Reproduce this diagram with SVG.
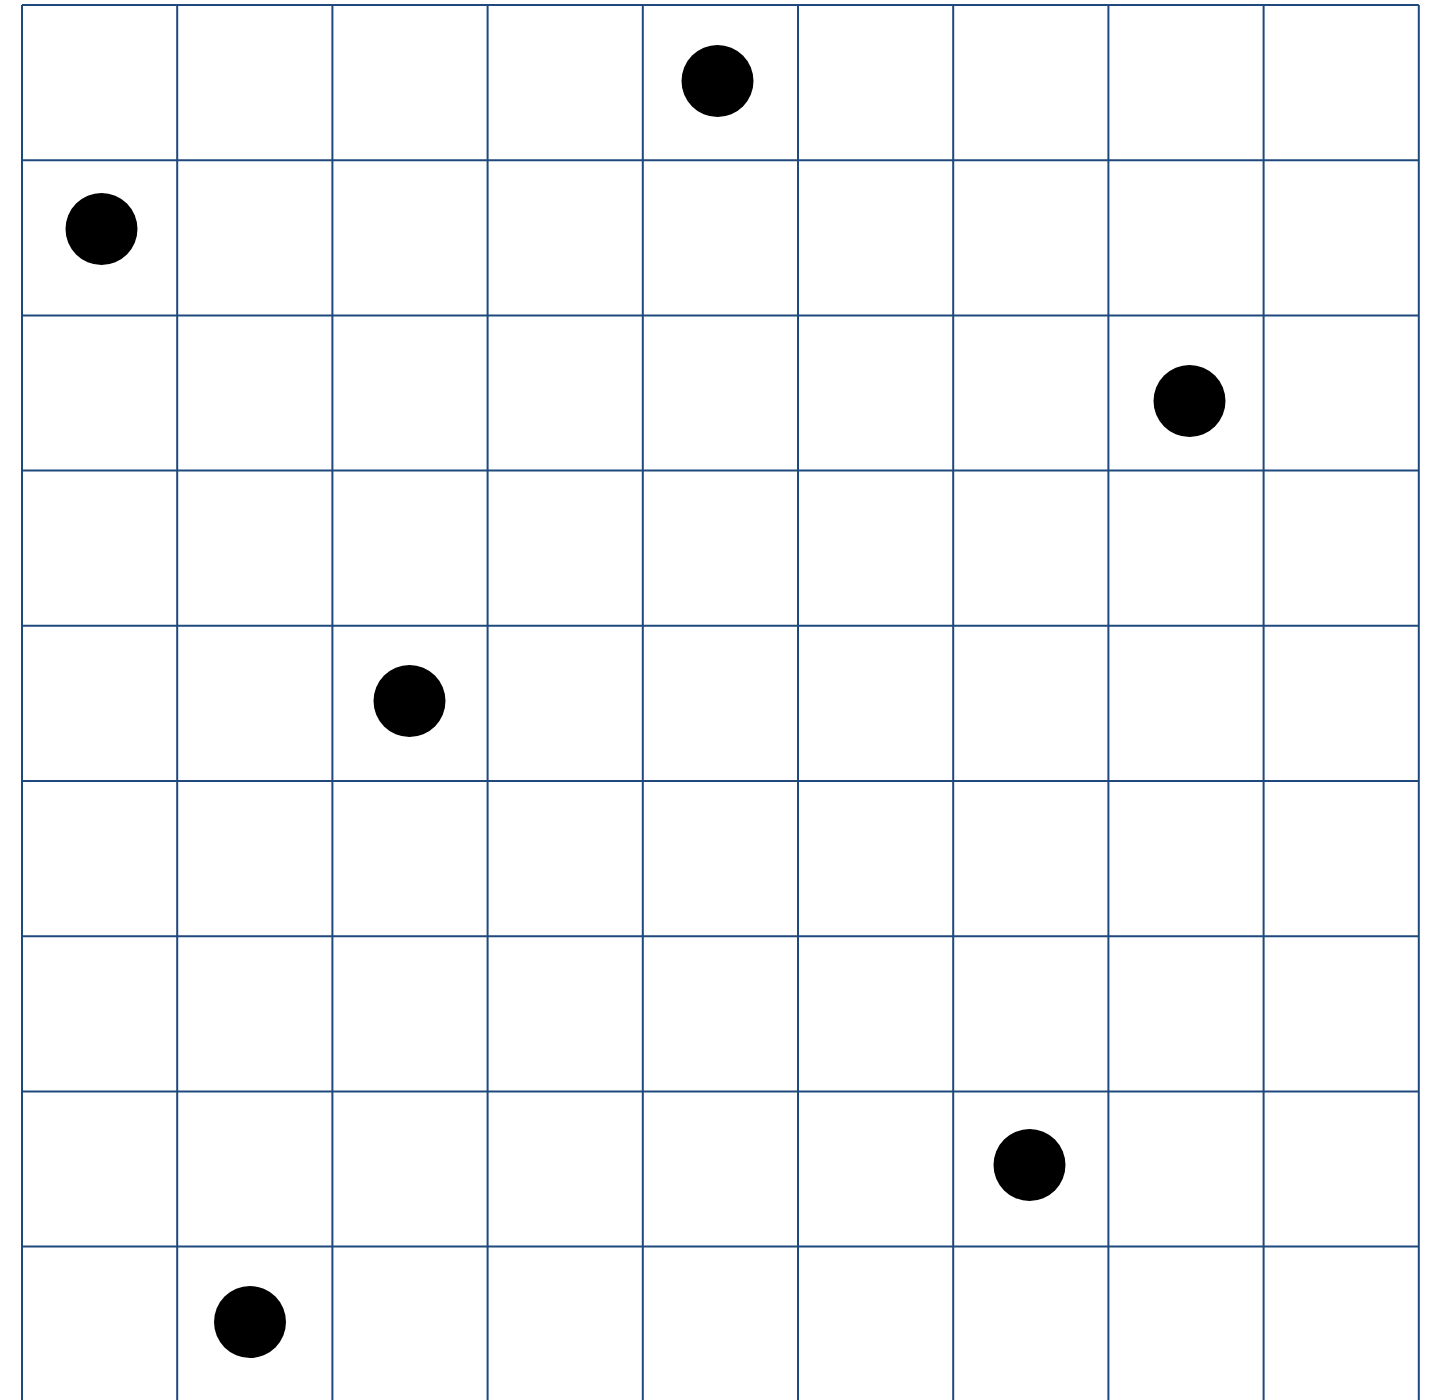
<svg xmlns="http://www.w3.org/2000/svg" width="1436" height="1400" viewBox="0 0 1436 1400">
<style>
.g{stroke:#1f497d;stroke-width:2;fill:none}
.d{fill:#000}
</style>
<rect width="1436" height="1400" fill="#fff"/>
<g id="grid" class="g">
<path d="M22 5V1402M177.2 5V1402M332.4 5V1402M487.6 5V1402M642.8 5V1402M798 5V1402M953.2 5V1402M1108.4 5V1402M1263.6 5V1402M1418.8 5V1402"/>
<path d="M22 5H1418.8M22 160.2H1418.8M22 315.4H1418.8M22 470.6H1418.8M22 625.8H1418.8M22 781H1418.8M22 936.2H1418.8M22 1091.4H1418.8M22 1246.6H1418.8M22 1401.8H1418.8"/>
</g>
<g id="dots">
<circle id="dot1" class="d" cx="717.5" cy="81" r="36"/>
<circle id="dot2" class="d" cx="101.5" cy="229" r="36"/>
<circle id="dot3" class="d" cx="1189.5" cy="401" r="36"/>
<circle id="dot4" class="d" cx="409.5" cy="701" r="36"/>
<circle id="dot5" class="d" cx="1029.5" cy="1165" r="36"/>
<circle id="dot6" class="d" cx="250" cy="1322" r="36"/>
</g>
</svg>
